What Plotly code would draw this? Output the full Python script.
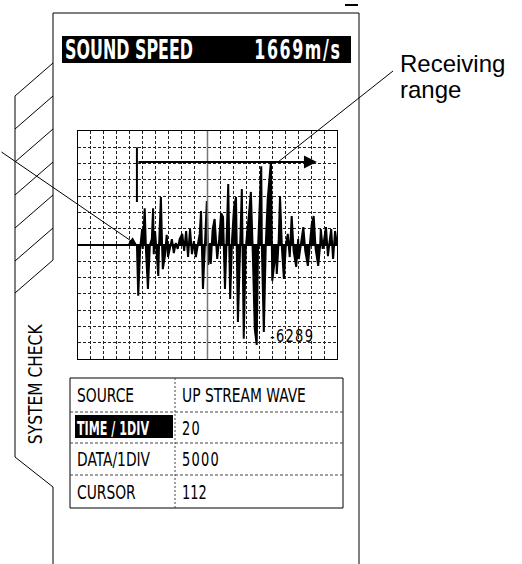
import json
import plotly.graph_objects as go

W, H = 522, 564

# scope trace: time (TIME/1DIV = 20) vs amplitude (DATA/1DIV = 5000)
wave_t = [91, 93, 96, 99, 100, 103, 105, 108, 111, 114,
          116, 117, 119, 122, 124, 125, 128, 130, 131, 134,
          137, 139, 142, 145, 148, 151, 154, 157, 161, 164,
          167, 170, 173, 176, 179, 182, 185, 188, 190, 193,
          196, 199, 201, 204, 205, 208, 211, 215, 218, 221,
          224, 227, 230, 232, 235, 238, 241, 244, 247, 250,
          253, 256, 259, 264, 267, 270, 273, 276, 278, 283,
          284, 287, 290, 293, 298, 300, 303, 306, 307, 310,
          312, 315, 318, 321, 324, 327, 330, 333, 337, 340,
          341, 344, 348, 351, 355, 358, 361, 364, 367, 371,
          374, 375, 378, 383, 386, 389, 391, 394, 397, 400]
wave_a = [0, -15600, -1200, 4900, -1200, 11300, -1800, -13500, 0, 1800,
          11300, -2800, 4300, -5800, -9500, -1200, 14700, -1200, -7400, -3700,
          3100, -3700, -600, 1800, -2500, 600, -1200, 1800, 3400, -1800,
          4300, -3700, 4900, -2800, 1200, -3700, 0, 3400, 10400, -13500,
          0, 13500, -6100, 600, -5800, 4900, 8000, -4300, 1800, 9800,
          8600, -13500, 4900, 18700, -16600, 1800, 11700, 14700, -23600, 300,
          17200, -28800, -1200, 9500, 16300, -2800, -25800, -30700, -1200, 24200,
          -1200, -26700, 0, 14100, 25800, -11000, -5800, -1200, -8900, 1800,
          15000, -1200, -10400, 0, 3400, -3700, 8900, -1800, -6700, 1800,
          -4300, 0, 5500, -1800, -6400, 0, 6400, 8900, -1200, -6400,
          0, 4900, -1200, 5500, -3400, 1800, 4900, -4300, 4300, 0]

cursor_value = "-6289"
receive_start, receive_end, receive_level = 91, 369, 25500

header_label = "SOUND SPEED"
header_value = "1669m/s"
tab_label = "SYSTEM CHECK"
callout = ["Receiving", "range"]

table_labels = ["SOURCE", "TIME / 1DIV", "DATA/1DIV", "CURSOR"]
table_values = ["UP STREAM WAVE", "20", "5000", "112"]

NARROW = "DejaVu Sans Condensed, DejaVu Sans, sans-serif"
ARIAL = "Liberation Sans, Arial, sans-serif"

squeeze = {}  # text -> [horizontal scale, pivot] applied after render


def spaced(s):
    return "\u200a".join(s)


fig = go.Figure()
fig.add_trace(go.Scatter(x=wave_t, y=wave_a, mode="lines", fill="tozeroy",
    fillcolor="black", line=dict(color="black", width=2),
    hoverinfo="skip", showlegend=False))
# empty trace on a pixel-sized overlay axis pair used for the drawing
fig.add_trace(go.Scatter(x=[0], y=[0], xaxis="x2", yaxis="y2", mode="markers",
    marker=dict(opacity=0), hoverinfo="skip", showlegend=False))


def line(x0, y0, x1, y1, width=1, dash=None, color="black"):
    fig.add_shape(type="line", xref="x2", yref="y2", x0=x0, y0=y0, x1=x1, y1=y1,
                  line=dict(color=color, width=width, dash=dash))


def text(x, y, s, size, family=NARROW, color="black", weight="normal", anchor="left",
         angle=0, scale=None):
    fig.add_annotation(xref="x2", yref="y2", x=x, y=y, text=s, showarrow=False,
        xanchor=anchor, yanchor="middle", textangle=angle,
        font=dict(family=family, size=size, color=color, weight=weight))
    if scale:
        squeeze[s] = [scale, anchor]


# panel outline and left tab
line(53, 13, 359, 13)
line(359, 13, 359, 564)
line(345, 5, 358, 5, width=2)
line(53, 13, 53, 260)
line(53, 63, 15, 96)
line(15, 96, 15, 457)
line(15, 457, 53, 487)
line(53, 487, 53, 564)
for yr in [96, 129, 162, 195, 228, 260]:
    line(53, yr, 15, yr + 33)

# header bar
fig.add_shape(type="rect", xref="x2", yref="y2", x0=62, y0=36, x1=351, y1=63,
              fillcolor="black", line=dict(width=0))
text(63, 50, header_label, 26, color="white", weight="bold", scale=0.68)
text(342, 50, spaced(header_value), 26, color="white", weight="bold", anchor="right", scale=0.68)

# tab label
text(35, 384, tab_label, 20, angle=-90, anchor="center", scale=0.86)

# callouts
text(398, 63, callout[0], 24, family=ARIAL)
text(398, 89, callout[1], 24, family=ARIAL)
line(393, 71, 278, 162)
fig.add_annotation(xref="x2", yref="y2", axref="x2", ayref="y2", x=137, y=245,
    ax=0, ay=151, text="", showarrow=True, arrowhead=2, arrowsize=1.6,
    arrowwidth=1, arrowcolor="black")

# receiving range marker inside the scope
fig.add_shape(type="line", xref="x", yref="y", x0=receive_start, x1=receive_start,
              y0=13200, y1=30000, line=dict(color="black", width=2))
fig.add_annotation(xref="x", yref="y", axref="x", ayref="y", x=receive_end, y=receive_level,
    ax=receive_start, ay=receive_level, text="", showarrow=True, arrowhead=2,
    arrowsize=1.3, arrowwidth=2, arrowcolor="black")
fig.add_shape(type="line", xref="x", yref="y domain", x0=200, x1=200, y0=0, y1=1,
              line=dict(color="#777", width=1.5))
fig.add_annotation(xref="x", yref="y", x=293, y=-27800, text=spaced(cursor_value),
    showarrow=False, xanchor="left", yanchor="middle",
    font=dict(family=NARROW, size=17, color="black"))
squeeze[spaced(cursor_value)] = [0.85, "left"]

# settings table
tx0, tx1, tcol = 70, 343, 175
row_edges = [378, 412, 443, 475, 508]
fig.add_shape(type="rect", xref="x2", yref="y2", x0=tx0, y0=row_edges[0], x1=tx1,
              y1=row_edges[-1], line=dict(color="black", width=1))
line(tcol, row_edges[0], tcol, row_edges[-1], dash="2px,2px", color="#444")
for ye in row_edges[1:-1]:
    line(tx0, ye, tx1, ye, dash="3px,2px", color="#444")
for i, (lab, val) in enumerate(zip(table_labels, table_values)):
    yc = (row_edges[i] + row_edges[i + 1]) / 2
    if i == 1:
        fig.add_shape(type="rect", xref="x2", yref="y2", x0=75, y0=415, x1=173, y1=438,
                      fillcolor="black", line=dict(width=0))
        text(75, yc, lab, 20, color="white", weight="bold", scale=0.62)
    else:
        text(75, yc, lab, 20, scale=0.77)
    if i == 0:
        text(180, yc, val, 20, scale=0.77)
    else:
        text(180, yc, spaced(val) if i in (1, 2) else val, 20, scale=0.72)

grid = dict(showgrid=True, gridcolor="#222", gridwidth=1, griddash="3px,2px",
            showticklabels=False, ticks="", showline=True, mirror=True,
            linecolor="black", linewidth=1, fixedrange=True)
fig.update_layout(
    width=W, height=H, margin=dict(l=0, r=0, t=0, b=0),
    paper_bgcolor="white", plot_bgcolor="rgba(0,0,0,0)", showlegend=False,
    xaxis=dict(domain=[78 / W, 337 / W], range=[0, 400], dtick=20, zeroline=False, **grid),
    yaxis=dict(domain=[1 - 359 / H, 1 - 131 / H], range=[-35000, 35000], dtick=5000,
               zeroline=True, zerolinecolor="black", zerolinewidth=1.5, **grid),
    xaxis2=dict(domain=[0, 1], range=[0, W], visible=False, anchor="y2", fixedrange=True),
    yaxis2=dict(domain=[0, 1], range=[H, 0], visible=False, anchor="x2", fixedrange=True),
)

# drop the page margin and narrow the condensed labels like the device font
post = """
document.body.style.margin = '0';
var sq = %s;
document.querySelectorAll('text.annotation-text').forEach(function (t) {
  var k = t.textContent;
  if (!(k in sq)) return;
  var s = sq[k][0], mode = sq[k][1];
  var bb = t.getBBox();
  var p = mode === 'center' ? bb.x + bb.width / 2 : (mode === 'right' ? bb.x + bb.width : bb.x);
  var tr = t.getAttribute('transform') || '';
  t.setAttribute('transform', tr + ' translate(' + p + ',0) scale(' + s + ',1) translate(' + (-p) + ',0)');
});
""" % json.dumps(squeeze)

fig.write_html("out.html", post_script=post, config={"displayModeBar": False, "staticPlot": True})
